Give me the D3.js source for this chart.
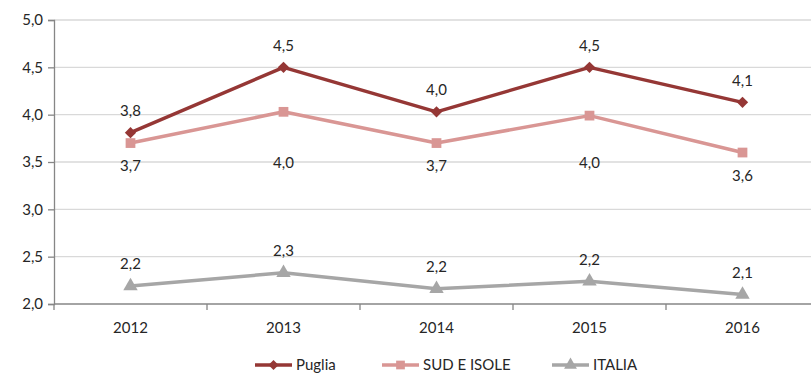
<!DOCTYPE html>
<html>
<head>
<meta charset="utf-8">
<script src="https://cdn.jsdelivr.net/npm/d3@7/dist/d3.min.js"></script>
<style>
  html, body { margin: 0; padding: 0; background: #fff; }
  svg { display: block; }
  text { font-family: Lato, "Open Sans", sans-serif; fill: #262626; }
</style>
</head>
<body>
<svg id="chart" width="811" height="374"></svg>
<script>
// Years on the horizontal axis
const years = ["2012", "2013", "2014", "2015", "2016"];

// Series values
const puglia   = [3.81, 4.50, 4.03, 4.50, 4.13];
const sudIsole = [3.70, 4.03, 3.70, 3.99, 3.60];
const italia   = [2.19, 2.33, 2.16, 2.24, 2.10];

// Y-axis ticks
const yTicks = [2.0, 2.5, 3.0, 3.5, 4.0, 4.5, 5.0];

const seriesNames = ["Puglia", "SUD E ISOLE", "ITALIA"];

const svg = d3.select("#chart");
const margin = { left: 54, top: 20, bottom: 304 };
const bandW = 153;

const x = d3.scaleBand().domain(years).range([margin.left, margin.left + bandW * years.length]);
const y = d3.scaleLinear().domain([2, 5]).range([margin.bottom, margin.top]);

const fmt = v => d3.format(".1f")(v).replace(".", ",");

// Gridlines
svg.append("g").selectAll("line").data(yTicks.slice(1)).join("line")
  .attr("x1", margin.left).attr("x2", x.range()[1])
  .attr("y1", d => y(d)).attr("y2", d => y(d))
  .attr("stroke", "#d9d9d9").attr("stroke-width", 1.3);

// Y axis
const yAxis = svg.append("g").attr("transform", `translate(${margin.left},0)`)
  .call(d3.axisLeft(y).tickValues(yTicks).tickSize(6).tickPadding(5).tickFormat(fmt));
yAxis.select(".domain").attr("stroke", "#868686").attr("stroke-width", 1.3);
yAxis.selectAll(".tick line").attr("stroke", "#868686").attr("stroke-width", 1.3);
yAxis.selectAll("text").attr("font-size", 15).attr("fill", "#262626")
  .style("font-family", "Lato, sans-serif");

// X axis: ticks between categories
const xAxis = svg.append("g").attr("transform", `translate(0,${margin.bottom})`);
xAxis.append("line").attr("x1", margin.left).attr("x2", x.range()[1])
  .attr("stroke", "#868686").attr("stroke-width", 1.3);
xAxis.selectAll("line.tk").data(d3.range(years.length + 1)).join("line")
  .attr("class", "tk")
  .attr("x1", i => margin.left + i * x.step()).attr("x2", i => margin.left + i * x.step())
  .attr("y1", 0).attr("y2", 6)
  .attr("stroke", "#868686").attr("stroke-width", 1.3);
xAxis.selectAll("text").data(years).join("text")
  .attr("x", d => x(d) + x.bandwidth() / 2)
  .attr("y", 24)
  .attr("dy", "0.35em")
  .attr("text-anchor", "middle")
  .attr("font-size", 15)
  .text(d => d);

const cx = d => x(d) + x.bandwidth() / 2;

const series = [
  { name: seriesNames[0], values: puglia,   color: "#953735", marker: "diamond", labelPos: "above" },
  { name: seriesNames[1], values: sudIsole, color: "#d99694", marker: "square",  labelPos: "below" },
  { name: seriesNames[2], values: italia,   color: "#a6a6a6", marker: "triangle", labelPos: "above" }
];

// Diamond drawn as a square turned 45 degrees
const symbolFor = m => m === "triangle" ? d3.symbolTriangle : d3.symbolSquare;
const sizeFor = m => m === "diamond" ? 64 : m === "square" ? 95 : 90;
const rotFor = m => m === "diamond" ? 45 : 0;

const line = d3.line().x((d, i) => cx(years[i])).y(d => y(d));

// Draw from the bottom series up
[...series].reverse().forEach(s => {
  const g = svg.append("g");
  g.append("path").datum(s.values)
    .attr("d", line).attr("fill", "none")
    .attr("stroke", s.color).attr("stroke-width", 3.5).attr("stroke-linejoin", "round");
  g.selectAll("path.m").data(s.values).join("path")
    .attr("class", "m")
    .attr("transform", (d, i) => `translate(${cx(years[i])},${y(d)}) rotate(${rotFor(s.marker)})`)
    .attr("d", d3.symbol().type(symbolFor(s.marker)).size(sizeFor(s.marker)))
    .attr("fill", s.color);
});

// Data labels
series.forEach(s => {
  svg.append("g").selectAll("text").data(s.values).join("text")
    .attr("x", (d, i) => cx(years[i]))
    .attr("y", d => s.labelPos === "above" ? y(d) - 22 : Math.max(y(d) + 23, y(3.49)))
    .attr("dy", "0.35em")
    .attr("text-anchor", "middle")
    .attr("font-size", 15)
    .text(d => fmt(d));
});

// Legend
const legendItems = [
  { s: series[0], x0: 255 },
  { s: series[1], x0: 382 },
  { s: series[2], x0: 552 }
];
const lg = svg.append("g").attr("transform", "translate(0,365)");
legendItems.forEach(({ s, x0 }) => {
  lg.append("line").attr("x1", x0).attr("x2", x0 + 37).attr("y1", 0).attr("y2", 0)
    .attr("stroke", s.color).attr("stroke-width", 3.5);
  lg.append("path").attr("transform", `translate(${x0 + 18.5},0) rotate(${rotFor(s.marker)})`)
    .attr("d", d3.symbol().type(symbolFor(s.marker)).size(sizeFor(s.marker) * 0.8))
    .attr("fill", s.color);
  lg.append("text").attr("x", x0 + 41).attr("y", 0).attr("dy", "0.35em")
    .attr("font-size", 15).text(s.name);
});
</script>
</body>
</html>
